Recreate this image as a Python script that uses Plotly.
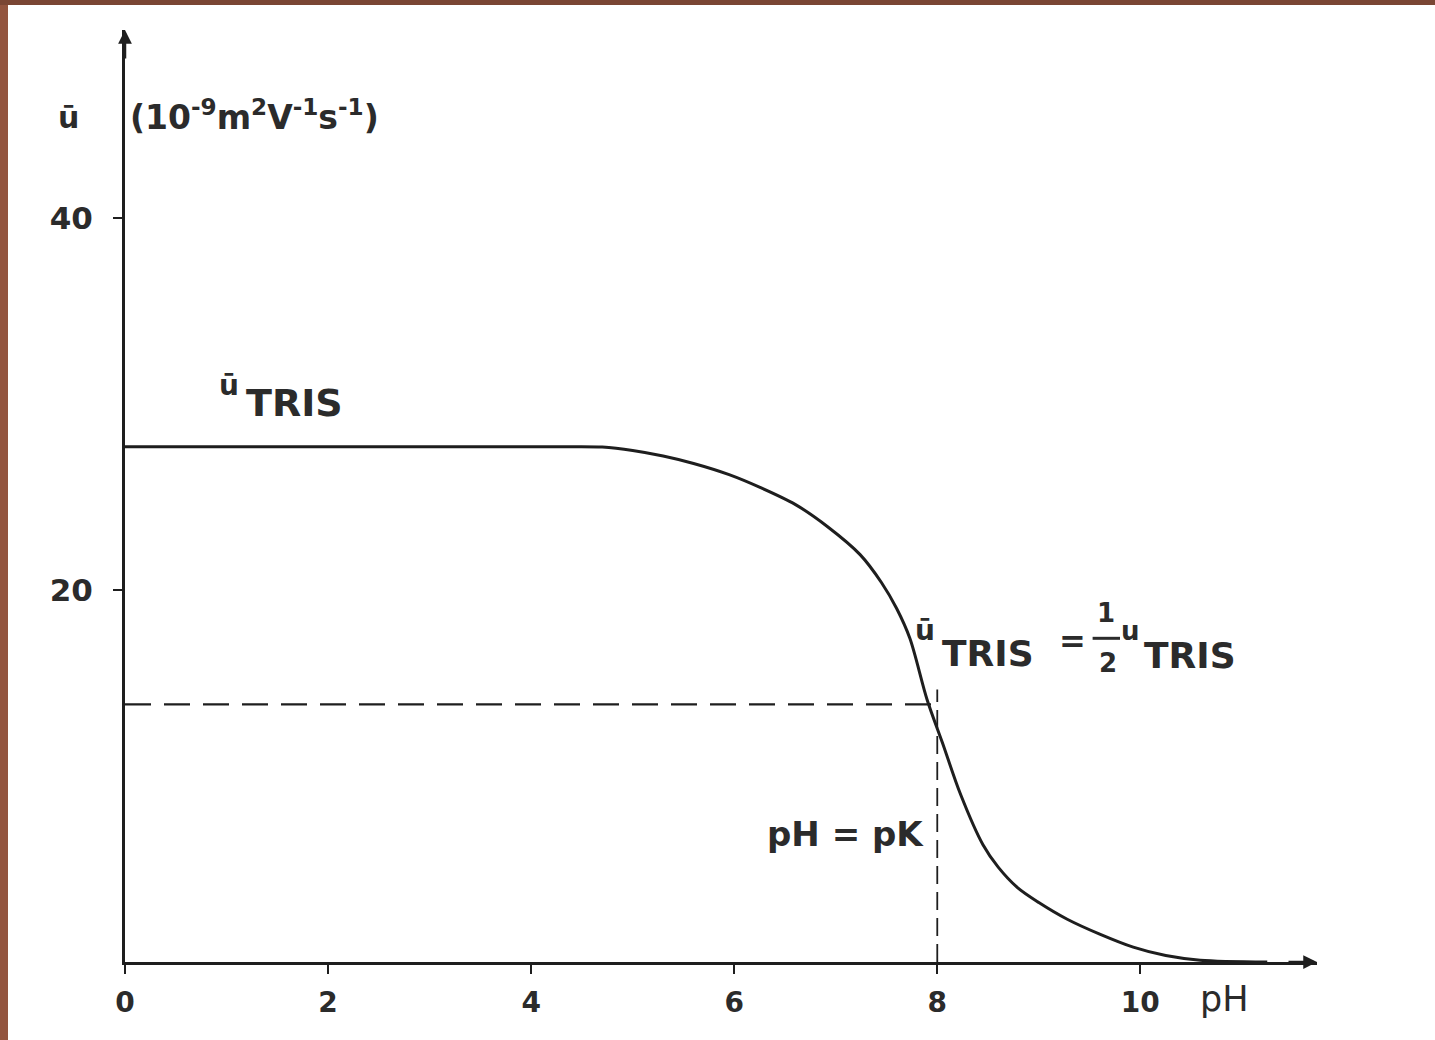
import plotly.graph_objects as go

# ---- data ----
ph = [0.0, 2.0, 4.3, 4.7, 5.0, 5.3, 5.6, 5.95, 6.26, 6.6, 6.92, 7.24, 7.45, 7.6, 7.73, 7.9,
      8.05, 8.23, 8.45, 8.6, 8.79, 9.0, 9.28, 9.6, 9.93, 10.25, 10.59, 11.25]
u_tris = [27.7, 27.7, 27.7, 27.68, 27.5, 27.2, 26.8, 26.2, 25.5, 24.6, 23.4, 21.9, 20.4, 19.0,
          17.4, 14.1, 11.8, 9.0, 6.3, 5.1, 4.0, 3.2, 2.3, 1.5, 0.8, 0.35, 0.1, 0.0]
pk = 8.0
half_u = 13.85
x_ticks = [0, 2, 4, 6, 8, 10]
x_tick_labels = ["0", "2", "4", "6", "8", "10"]
y_ticks = [20, 40]
y_tick_labels = ["20", "40"]
x_max = 11.74
y_max = 50.1

INK = "#1e1e1e"
TXT = "#2b2b2b"
FONT = "DejaVu Sans"

fig = go.Figure()

# main curve
fig.add_trace(go.Scatter(x=ph, y=u_tris, mode="lines",
                         line=dict(color=INK, width=3, shape="spline", smoothing=0.9),
                         cliponaxis=False, hoverinfo="skip", showlegend=False))
# dashed horizontal at half mobility
fig.add_trace(go.Scatter(x=[0, pk + 0.06], y=[half_u, half_u], mode="lines",
                         line=dict(color=INK, width=2.2, dash="26px,13px"),
                         hoverinfo="skip", showlegend=False))
# dashed vertical at pH = pK
fig.add_trace(go.Scatter(x=[pk, pk], y=[0, half_u + 0.8], mode="lines",
                         line=dict(color=INK, width=1.8, dash="18px,8px"),
                         hoverinfo="skip", showlegend=False))

ann = []
# axis arrowheads
ann.append(dict(x=x_max, y=0, xref="x", yref="y", text="", showarrow=True,
                ax=-30, ay=0, arrowhead=2, arrowsize=1.1, arrowwidth=2.5, arrowcolor=INK))
ann.append(dict(x=0, y=y_max, xref="x", yref="y", text="", showarrow=True,
                ax=0, ay=30, arrowhead=2, arrowsize=1.1, arrowwidth=2.5, arrowcolor=INK))

def txt(x, y, s, size, xanchor="center", bold=True, ref="data"):
    xr, yr = ("x", "y") if ref == "data" else ("paper", "paper")
    ann.append(dict(x=x, y=y, xref=xr, yref=yr, text=s, showarrow=False,
                    xanchor=xanchor, yanchor="middle",
                    font=dict(family=FONT, size=size, color=TXT,
                              weight="bold" if bold else "normal")))

# y-axis label and units
txt(-0.0478, 0.906, "ū", 30, ref="paper")
txt(0.03, 45.5, "(10<sup>-9</sup>m<sup>2</sup>V<sup>-1</sup>s<sup>-1</sup>)", 33, xanchor="left")

# curve label
txt(1.02, 31.0, "ū", 28)
txt(1.17, 30.05, "TRIS", 38, xanchor="left")

# equation label
txt(7.88, 17.8, "ū", 28)
txt(8.03, 16.6, "TRIS", 36, xanchor="left")
txt(9.33, 17.25, "=", 32)
txt(9.66, 18.75, "1", 26)
txt(9.68, 16.1, "2", 26)
txt(9.90, 17.8, "u", 26)
txt(10.02, 16.5, "TRIS", 36, xanchor="left")

# pH = pK
txt(7.1, 6.9, "pH = pK", 34)

# x axis title
txt(0.9228, -0.04, "pH", 35, bold=False, ref="paper")

# fraction bar and scanned page border (brown strips at left and top)
shapes = [
    dict(type="line", xref="x", yref="y", x0=9.53, x1=9.80, y0=17.4, y1=17.4,
         line=dict(color=TXT, width=3)),
    dict(type="rect", xref="paper", yref="paper", x0=-0.2, x1=(8 - 125) / 1192,
         y0=-0.2, y1=1.2, fillcolor="#93553f", line=dict(width=0), layer="below"),
    dict(type="rect", xref="paper", yref="paper", x0=-0.2, x1=1.2,
         y0=1 + 25 / 932, y1=1.2, fillcolor="#7a4634", line=dict(width=0), layer="below"),
]

fig.update_layout(
    width=1435, height=1040,
    margin=dict(l=125, r=1435 - 1317, t=30, b=1040 - 962, pad=0),
    paper_bgcolor="white", plot_bgcolor="white",
    showlegend=False,
    annotations=ann, shapes=shapes,
    xaxis=dict(range=[0, x_max], showgrid=False, zeroline=False,
               showline=True, linecolor=INK, linewidth=3,
               tickmode="array", tickvals=x_ticks, ticktext=x_tick_labels,
               ticks="outside", ticklen=9, tickwidth=2, tickcolor=INK,
               ticklabelstandoff=4,
               tickfont=dict(family=FONT, size=28, color=TXT, weight="bold")),
    yaxis=dict(range=[0, y_max], showgrid=False, zeroline=False,
               showline=True, linecolor=INK, linewidth=3,
               tickmode="array", tickvals=y_ticks, ticktext=y_tick_labels,
               ticks="outside", ticklen=9, tickwidth=2, tickcolor=INK,
               ticklabelstandoff=14,
               tickfont=dict(family=FONT, size=31, color=TXT, weight="bold")),
)

fig.write_html("out.html")
